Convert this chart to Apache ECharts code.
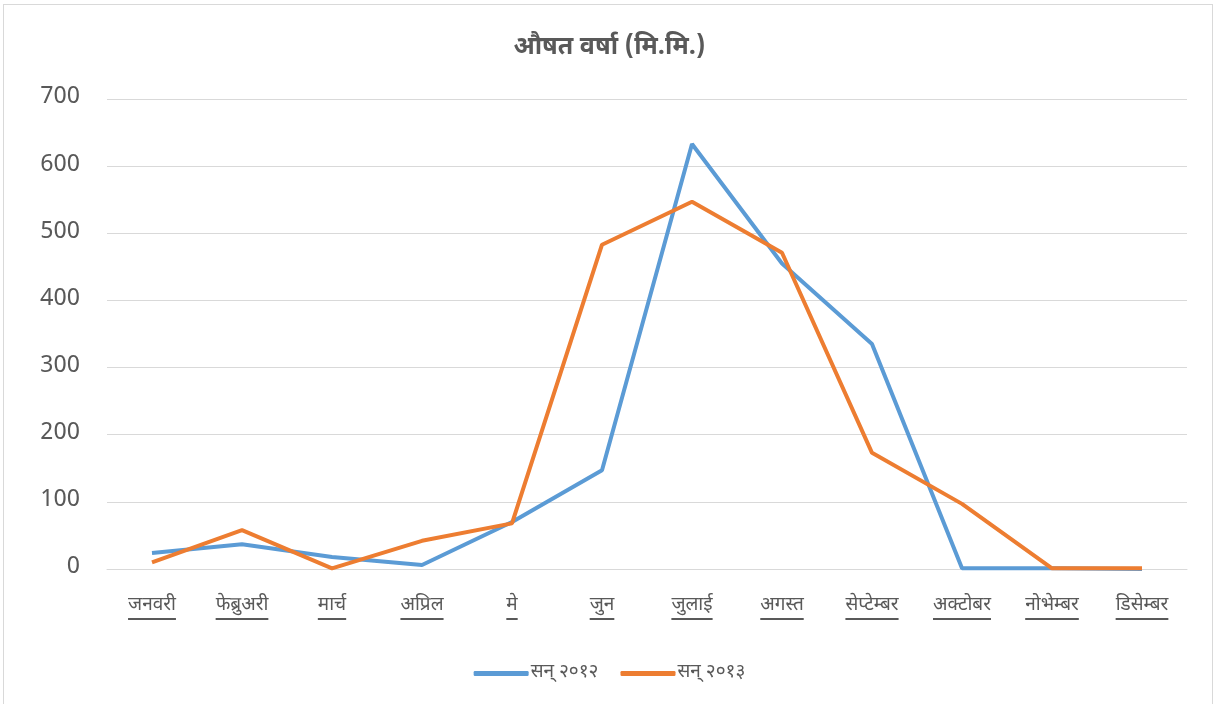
<!DOCTYPE html>
<html>
<head>
<meta charset="utf-8">
<script src="https://cdn.jsdelivr.net/npm/echarts@6/dist/echarts.min.js"></script>
<style>
  html, body { margin: 0; padding: 0; background: #fff; }
  #frame { position: absolute; left: 3px; top: 4px; width: 1210px; height: 720px; border: 1px solid #d9d9d9; box-sizing: border-box; }
  #chart { position: absolute; left: 0; top: 0; width: 1219px; height: 704px; }
</style>
</head>
<body>
<div id="frame"></div>
<div id="chart"></div>
<script>
// महिना
var months = ['जनवरी', 'फेब्रुअरी', 'मार्च', 'अप्रिल', 'मे', 'जुन', 'जुलाई', 'अगस्त', 'सेप्टेम्बर', 'अक्टोबर', 'नोभेम्बर', 'डिसेम्बर'];
var rain2012 = [24, 37, 18, 6, 70, 147, 633, 455, 335, 1, 1, 0];
var rain2013 = [10, 58, 1, 42, 68, 483, 547, 471, 173, 97, 1, 1];
var seriesNames = ['सन् २०१२', 'सन् २०१३'];

var fontFam = '"Noto Sans Devanagari", "Noto Sans", sans-serif';
var chart = echarts.init(document.getElementById('chart'));

var option = {
  backgroundColor: 'transparent',
  title: {
    text: 'औषत वर्षा (मि.मि.)',
    left: 'center',
    top: 32,
    textStyle: { fontSize: 25, fontWeight: 'bold', color: '#595959', fontFamily: fontFam }
  },
  legend: {
    bottom: 16,
    left: 'center',
    itemWidth: 55,
    itemHeight: 5,
    itemGap: 22,
    icon: 'roundRect',
    textStyle: { fontSize: 19, color: '#595959', fontFamily: fontFam, padding: [0, 0, 0, -3] },
    data: seriesNames
  },
  grid: { left: 107, right: 32, top: 99, bottom: 135, containLabel: false },
  xAxis: {
    type: 'category',
    data: months,
    boundaryGap: true,
    axisLine: { lineStyle: { color: '#d9d9d9', width: 1 } },
    axisTick: { show: false },
    axisLabel: {
      margin: 26,
      interval: 0,
      formatter: function (v) { return '{t|' + v + '}\n{u|' + v + '}'; },
      rich: {
        t: { fontSize: 19, color: '#595959', fontFamily: fontFam, lineHeight: 22 },
        u: { fontSize: 19, color: 'transparent', fontFamily: fontFam, height: 2, lineHeight: 4, backgroundColor: '#595959' }
      }
    }
  },
  yAxis: {
    type: 'value',
    min: 0,
    max: 700,
    interval: 100,
    axisLine: { show: false },
    axisTick: { show: false },
    axisLabel: { fontSize: 24, color: '#595959', margin: 27, fontFamily: fontFam },
    splitLine: { lineStyle: { color: '#d9d9d9', width: 1 } }
  },
  series: [
    {
      name: seriesNames[0],
      type: 'line',
      data: rain2012,
      symbol: 'none',
      lineStyle: { color: '#5B9BD5', width: 4 },
      itemStyle: { color: '#5B9BD5' }
    },
    {
      name: seriesNames[1],
      type: 'line',
      data: rain2013,
      symbol: 'none',
      lineStyle: { color: '#ED7D31', width: 4 },
      itemStyle: { color: '#ED7D31' }
    }
  ]
};
chart.setOption(option);
</script>
</body>
</html>
